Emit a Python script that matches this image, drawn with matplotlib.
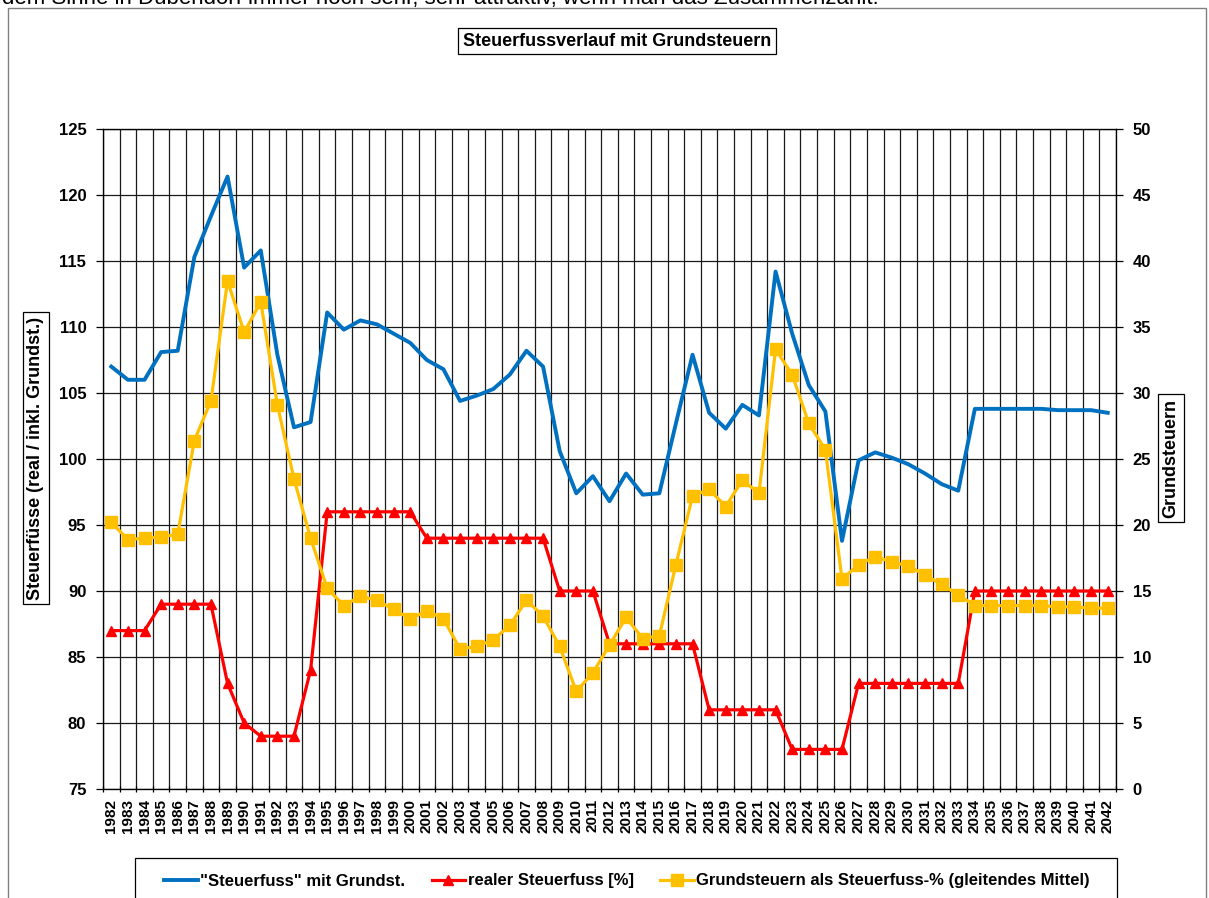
import numpy as np
import matplotlib
matplotlib.use('Agg')
import matplotlib.pyplot as plt
from matplotlib.patches import Rectangle
from matplotlib.lines import Line2D

plt.rcParams['font.family'] = ['Liberation Sans', 'DejaVu Sans']

# Daten
jahre = [str(j) for j in range(1982, 2043)]

steuerfuss_mit_grundst = [
    107.0, 106.0, 106.0, 108.1, 108.2, 115.3, 118.4, 121.4, 114.5, 115.8,  # 1982-1991
    107.9, 102.4, 102.8, 111.1, 109.8, 110.5, 110.2, 109.5, 108.8, 107.5,  # 1992-2001
    106.8, 104.4, 104.8, 105.3, 106.4, 108.2, 107.0, 100.6, 97.4, 98.7,    # 2002-2011
    96.8, 98.9, 97.3, 97.4, 102.7, 107.9, 103.5, 102.3, 104.1, 103.3,      # 2012-2021
    114.2, 109.5, 105.6, 103.6, 93.8, 99.9, 100.5, 100.1, 99.6, 98.9,      # 2022-2031
    98.1, 97.6, 103.8, 103.8, 103.8, 103.8, 103.8, 103.7, 103.7, 103.7, 103.5]  # 2032-2042

realer_steuerfuss = [
    87, 87, 87, 89, 89, 89, 89, 83, 80, 79,
    79, 79, 84, 96, 96, 96, 96, 96, 96, 94,
    94, 94, 94, 94, 94, 94, 94, 90, 90, 90,
    86, 86, 86, 86, 86, 86, 81, 81, 81, 81,
    81, 78, 78, 78, 78, 83, 83, 83, 83, 83,
    83, 83, 90, 90, 90, 90, 90, 90, 90, 90, 90]

grundsteuern = [
    20.2, 18.9, 19.0, 19.1, 19.3, 26.4, 29.4, 38.5, 34.6, 36.9,
    29.1, 23.5, 19.0, 15.2, 13.9, 14.6, 14.3, 13.6, 12.9, 13.5,
    12.9, 10.6, 10.8, 11.3, 12.4, 14.3, 13.1, 10.8, 7.4, 8.8,
    10.9, 13.0, 11.4, 11.6, 17.0, 22.2, 22.7, 21.4, 23.4, 22.4,
    33.3, 31.4, 27.7, 25.7, 15.9, 17.0, 17.6, 17.2, 16.9, 16.2,
    15.5, 14.7, 13.9, 13.9, 13.9, 13.9, 13.9, 13.8, 13.8, 13.7, 13.7]

W, H = 1209, 898
def fx(px):
    return px / W
def fy(py):
    return 1 - py / H

fig = plt.figure(figsize=(W / 100, H / 100), dpi=100)

# abgeschnittener Text oben (Screenshot)
fig.text(fx(2), fy(4), 'dem Sinne in Dübendorf immer noch sehr, sehr attraktiv, wenn man das Zusammenzählt.',
         fontsize=16, va='baseline', ha='left')

# Rahmen des Diagramms
fig.add_artist(Rectangle((fx(8), fy(910)), (1206 - 8) / W, (910 - 8) / H, transform=fig.transFigure,
                         fill=False, ec='#808080', lw=1))

ax = fig.add_axes([fx(103), fy(789), (1116 - 103) / W, (789 - 129) / H])
x = np.arange(len(jahre))

ax.plot(x, steuerfuss_mit_grundst, color='#0070C0', lw=2.8, solid_joinstyle='round', zorder=3)
ax.plot(x, realer_steuerfuss, color='#FF0000', lw=2.3, marker='^', ms=7.5, zorder=3)

ax.set_xlim(-0.5, len(jahre) - 0.5)
ax.set_ylim(75, 125)
ax.set_yticks(np.arange(75, 126, 5))
ax.set_xticks(x)
ax.set_xticklabels(jahre, rotation=90, fontsize=11, fontweight='bold')
ax.set_xticks(np.arange(-0.5, len(jahre)), minor=True)
ax.tick_params(axis='x', which='major', length=0, pad=7)
ax.tick_params(axis='x', which='minor', length=5, width=0.9, direction='inout')
ax.tick_params(axis='y', length=5, width=0.9, labelsize=12, pad=7)
for lbl in ax.get_yticklabels():
    lbl.set_fontweight('bold')
ax.grid(which='minor', axis='x', color='#1a1a1a', lw=0.9)
ax.grid(which='major', axis='y', color='#1a1a1a', lw=0.9)
ax.grid(which='major', axis='x', visible=False)
ax.set_axisbelow(True)
for s in ax.spines.values():
    s.set_color('black')
    s.set_linewidth(0.9)

ax2 = ax.twinx()
ax2.plot(x, grundsteuern, color='#FFC000', lw=2.3, marker='s', ms=8.5, zorder=3)
ax2.set_ylim(0, 50)
ax2.set_yticks(np.arange(0, 51, 5))
ax2.tick_params(axis='y', length=5, width=0.9, labelsize=12, pad=7)
for lbl in ax2.get_yticklabels():
    lbl.set_fontweight('bold')

box = dict(boxstyle='square,pad=0.25', fc='white', ec='black', lw=0.9)
fig.text(fx(617), fy(41), 'Steuerfussverlauf mit Grundsteuern', ha='center', va='center',
         fontsize=13, fontweight='bold', bbox=box)
fig.text(fx(36), fy(458), 'Steuerfüsse (real / inkl. Grundst.)', rotation=90, ha='center', va='center',
         fontsize=13, fontweight='bold', bbox=box)
fig.text(fx(1171), fy(458), 'Grundsteuern', rotation=90, ha='center', va='center',
         fontsize=13, fontweight='bold', bbox=box)

# Legende
fig.add_artist(Rectangle((fx(135), fy(910)), (1117 - 135) / W, (910 - 858) / H, transform=fig.transFigure,
                         fill=False, ec='black', lw=0.9))
handles = [Line2D([], [], color='#0070C0', lw=2.8),
           Line2D([], [], color='#FF0000', lw=2.3, marker='^', ms=7.5),
           Line2D([], [], color='#FFC000', lw=2.3, marker='s', ms=8)]
labels = ['"Steuerfuss" mit Grundst.', 'realer Steuerfuss [%]',
          'Grundsteuern als Steuerfuss-% (gleitendes Mittel)']
fig.legend(handles, labels, loc='center', bbox_to_anchor=(fx(627), fy(881)), ncol=3, frameon=False,
           handlelength=2.0, handletextpad=0.15, columnspacing=1.6, prop={'weight': 'bold', 'size': 12})

fig.savefig('out.png', dpi=100)
